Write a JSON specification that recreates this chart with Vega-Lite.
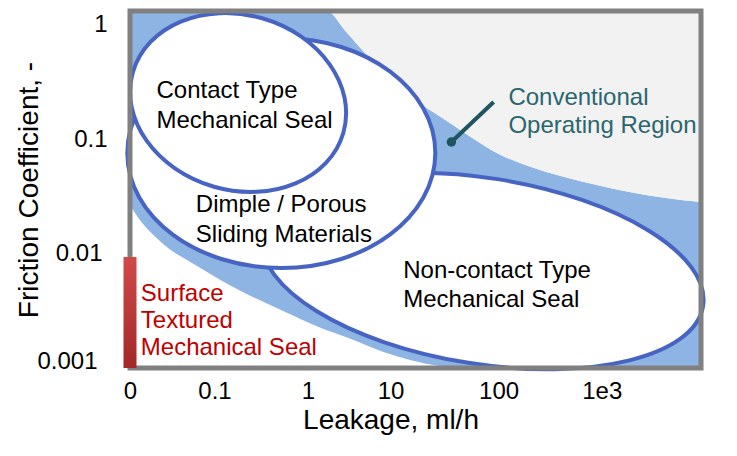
{
  "$schema": "https://vega.github.io/schema/vega-lite/v6.json",
  "width": 581,
  "height": 357,
  "autosize": "none",
  "padding": {"left": 125, "top": 11, "right": 31, "bottom": 88},
  "background": "white",
  "view": {"stroke": null},
  "config": {"font": "Liberation Sans"},
  "datasets": {
    "upper": [
      {"leakage": 0, "friction": 1.32},
      {"leakage": 2.0655, "friction": 1.32},
      {"leakage": 2.272, "friction": 0.865},
      {"leakage": 2.4992, "friction": 0.5337},
      {"leakage": 2.6851, "friction": 0.3791},
      {"leakage": 2.84, "friction": 0.286},
      {"leakage": 2.9949, "friction": 0.2202},
      {"leakage": 3.2015, "friction": 0.1694},
      {"leakage": 3.3771, "friction": 0.1358},
      {"leakage": 3.532, "friction": 0.111},
      {"leakage": 3.8728, "friction": 0.07424},
      {"leakage": 4.1826, "friction": 0.05832},
      {"leakage": 4.5647, "friction": 0.04673},
      {"leakage": 4.9055, "friction": 0.03978},
      {"leakage": 5.2463, "friction": 0.03455},
      {"leakage": 5.6284, "friction": 0.03062},
      {"leakage": 6.0, "friction": 0.02826}
    ],
    "lower": [
      {"leakage": 0, "friction": 0.0266},
      {"leakage": 0.1033, "friction": 0.01967},
      {"leakage": 0.2582, "friction": 0.01425},
      {"leakage": 0.4131, "friction": 0.01097},
      {"leakage": 0.599, "friction": 0.008793},
      {"leakage": 0.7746, "friction": 0.00719},
      {"leakage": 0.9501, "friction": 0.00588},
      {"leakage": 1.2909, "friction": 0.004175},
      {"leakage": 1.6317, "friction": 0.003087},
      {"leakage": 1.9829, "friction": 0.002282},
      {"leakage": 2.3237, "friction": 0.001793},
      {"leakage": 2.6645, "friction": 0.00138},
      {"leakage": 2.9433, "friction": 0.001175},
      {"leakage": 3.2531, "friction": 0.001041},
      {"leakage": 3.4597, "friction": 0.001},
      {"leakage": 6.0, "friction": 0.001}
    ],
    "regions": [
      {"region": "Non-contact", "leakage": 3.7075, "friction": 0.007046},
      {"region": "Dimple", "leakage": 1.59, "friction": 0.07574},
      {"region": "Contact", "leakage": 1.136, "friction": 0.2093}
    ],
    "notes": [
      {"kind": "seal", "label": "Contact Type\nMechanical Seal", "leakage": 0.2788, "friction": 0.2291},
      {"kind": "seal", "label": "Dimple / Porous\nSliding Materials", "leakage": 0.6919, "friction": 0.0231},
      {"kind": "seal", "label": "Non-contact Type\nMechanical Seal", "leakage": 2.871, "friction": 0.00612},
      {"kind": "textured", "label": "Surface\nTextured\nMechanical Seal", "leakage": 0.1136, "friction": 0.003852},
      {"kind": "conventional", "label": "Conventional\nOperating Region", "leakage": 3.976, "friction": 0.199}
    ],
    "textured": [
      {"leakage": 0, "friction": 0.00934}
    ],
    "leader": [
      {"leakage": 3.3771, "friction": 0.09451, "leakage2": 3.821, "friction2": 0.2114}
    ]
  },
  "encoding": {
    "x": {
      "field": "leakage",
      "type": "quantitative",
      "scale": {"domain": [0, 6], "nice": false, "zero": false},
      "axis": {
        "title": "Leakage, ml/h",
        "values": [0, 0.888, 1.869, 2.737, 3.873, 4.957],
        "labelExpr": "datum.value < 0.4 ? '0' : datum.value < 1.4 ? '0.1' : datum.value < 2.3 ? '1' : datum.value < 3.3 ? '10' : datum.value < 4.4 ? '100' : '1e3'",
        "labelFlush": false,
        "labelOverlap": false,
        "ticks": false,
        "tickSize": 0,
        "domain": false,
        "grid": false,
        "labelPadding": 11,
        "labelFont": "Liberation Sans",
        "labelFontSize": 24,
        "labelColor": "#000000",
        "titleFont": "Liberation Sans",
        "titleFontSize": 28,
        "titleFontWeight": "normal",
        "titleColor": "#000000",
        "titleX": 265.5,
        "titleY": 38,
        "titleBaseline": "top",
        "titleAlign": "center"
      }
    },
    "y": {
      "field": "friction",
      "type": "quantitative",
      "scale": {"type": "log", "domain": [0.001, 1.32], "nice": false},
      "axis": {
        "title": "Friction Coefficient, -",
        "values": [0.001, 0.01, 0.1, 1],
        "format": "~g",
        "labelFlush": false,
        "labelOverlap": false,
        "ticks": false,
        "tickSize": 0,
        "domain": false,
        "grid": false,
        "labelPadding": {"condition": [{"test": "datum.value < 0.002", "value": 28}, {"test": "datum.value < 0.02", "value": 23}], "value": 18},
        "labelBaseline": {"condition": {"test": "datum.value < 0.002", "value": "alphabetic"}, "value": "middle"},
        "labelFont": "Liberation Sans",
        "labelFontSize": 24,
        "labelColor": "#000000",
        "titleFont": "Liberation Sans",
        "titleFontSize": 28,
        "titleFontWeight": "normal",
        "titleColor": "#000000",
        "titleX": -88,
        "titleY": 178.5,
        "titleAngle": -90,
        "titleBaseline": "alphabetic",
        "titleAlign": "center"
      }
    }
  },
  "layer": [
    {
      "data": {"name": "upper"},
      "mark": {"type": "area", "interpolate": "monotone", "color": "#8DB4E2", "opacity": 1},
      "encoding": {"y2": {"datum": 0.001}}
    },
    {
      "data": {"name": "upper"},
      "mark": {"type": "area", "interpolate": "monotone", "color": "#F2F2F2", "opacity": 1},
      "encoding": {"y2": {"datum": 1.32}}
    },
    {
      "data": {"name": "lower"},
      "mark": {"type": "area", "interpolate": "monotone", "color": "#FFFFFF", "opacity": 1},
      "encoding": {"y2": {"datum": 0.001}}
    },
    {
      "data": {"name": "regions"},
      "transform": [{"filter": "datum.region === 'Non-contact'"}],
      "mark": {"type": "point", "shape": "M1,0C1,0.2303 0.5523,0.417 0,0.417C-0.5523,0.417 -1,0.2303 -1,0C-1,-0.2303 -0.5523,-0.417 0,-0.417C0.5523,-0.417 1,-0.2303 1,0Z", "size": 198916, "angle": 9, "filled": true, "fill": "#FFFFFF", "stroke": "#4764C3", "strokeWidth": 4, "opacity": 1, "fillOpacity": 1, "strokeOpacity": 1}
    },
    {
      "data": {"name": "regions"},
      "transform": [{"filter": "datum.region === 'Dimple'"}],
      "mark": {"type": "point", "shape": "M1,0C1,0.4126 0.5523,0.747 0,0.747C-0.5523,0.747 -1,0.4126 -1,0C-1,-0.4126 -0.5523,-0.747 0,-0.747C0.5523,-0.747 1,-0.4126 1,0Z", "size": 94864, "angle": 0, "filled": true, "fill": "#FFFFFF", "stroke": "#4764C3", "strokeWidth": 4, "opacity": 1, "fillOpacity": 1, "strokeOpacity": 1}
    },
    {
      "data": {"name": "regions"},
      "transform": [{"filter": "datum.region === 'Contact'"}],
      "mark": {"type": "point", "shape": "M1,0C1,0.4418 0.5523,0.8 0,0.8C-0.5523,0.8 -1,0.4418 -1,0C-1,-0.4418 -0.5523,-0.8 0,-0.8C0.5523,-0.8 1,-0.4418 1,0Z", "size": 47961, "angle": 16, "filled": true, "fill": "#FFFFFF", "stroke": "#4764C3", "strokeWidth": 4, "opacity": 1, "fillOpacity": 1, "strokeOpacity": 1}
    },
    {
      "data": {"name": "textured"},
      "mark": {"type": "rect", "filled": false, "color": "#808080", "strokeWidth": 5},
      "encoding": {"x": {"datum": 0}, "x2": {"datum": 6}, "y": {"datum": 0.001}, "y2": {"datum": 1.32}}
    },
    {
      "data": {"name": "textured"},
      "mark": {"type": "bar", "width": 13, "fill": {"gradient": "linear", "x1": 0, "y1": 0, "x2": 0, "y2": 1, "stops": [{"offset": 0, "color": "#D24A4A"}, {"offset": 1, "color": "#A32828"}]}},
      "encoding": {"y2": {"datum": 0.001}}
    },
    {
      "data": {"name": "leader"},
      "mark": {"type": "rule", "color": "#1F5560", "strokeWidth": 4},
      "encoding": {"x2": {"field": "leakage2"}, "y2": {"field": "friction2"}}
    },
    {
      "data": {"name": "leader"},
      "mark": {"type": "point", "shape": "circle", "filled": true, "color": "#1F5560", "size": 90, "opacity": 1}
    },
    {
      "data": {"name": "notes"},
      "transform": [{"filter": "datum.kind === 'seal'"}],
      "mark": {"type": "text", "align": "left", "baseline": "alphabetic", "fontSize": 24, "lineBreak": "\n", "lineHeight": 29.5, "color": "#000000", "font": "Liberation Sans"},
      "encoding": {"text": {"field": "label"}}
    },
    {
      "data": {"name": "notes"},
      "transform": [{"filter": "datum.kind === 'textured'"}],
      "mark": {"type": "text", "align": "left", "baseline": "alphabetic", "fontSize": 24, "lineBreak": "\n", "lineHeight": 27, "color": "#C00000", "font": "Liberation Sans"},
      "encoding": {"text": {"field": "label"}}
    },
    {
      "data": {"name": "notes"},
      "transform": [{"filter": "datum.kind === 'conventional'"}],
      "mark": {"type": "text", "align": "left", "baseline": "alphabetic", "fontSize": 24, "lineBreak": "\n", "lineHeight": 28, "color": "#2A6670", "font": "Liberation Sans"},
      "encoding": {"text": {"field": "label"}}
    }
  ]
}
